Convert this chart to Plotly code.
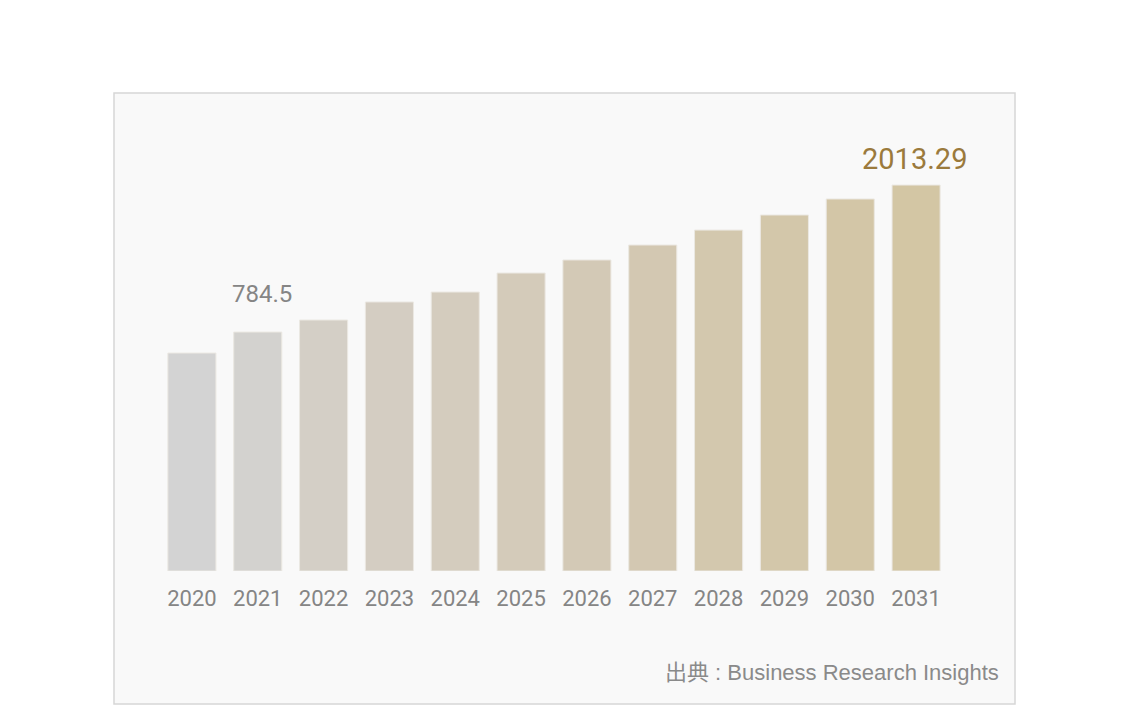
import plotly.graph_objects as go

years = ["2020", "2021", "2022", "2023", "2024", "2025",
         "2026", "2027", "2028", "2029", "2030", "2031"]
values = [609, 784.5, 885, 1036, 1119, 1278, 1387, 1512, 1637, 1763, 1897, 2013.29]
axis_floor = -1213
axis_top = 2390

bar_colors = ["#d3d3d3", "#d3d2cf", "#d4cfc6", "#d4cdc2", "#d4ccbe", "#d4cbba",
              "#d3c9b6", "#d3c8b2", "#d3c8ae", "#d3c7aa", "#d3c6a7", "#d3c6a4"]

W, H = 1125, 716
OFF = 8  # page margin of the html body


def px_x(x):
    return (x - OFF) / W


def px_y(y):
    return (H - (y - OFF)) / H


fig = go.Figure()
fig.add_trace(go.Bar(
    x=years,
    y=[v - axis_floor for v in values],
    base=axis_floor,
    marker=dict(color=bar_colors, line=dict(width=1, color="#ebe8e2")),
    customdata=values,
    hovertemplate="%{x}: %{customdata}<extra></extra>",
))

# value call-outs (category axis: position by index)
i_first, i_last = 1, len(years) - 1
fig.add_annotation(x=i_first, y=values[i_first], text="784.5", showarrow=False,
                   yanchor="bottom", yshift=22, xshift=4,
                   font=dict(family="Roboto", size=24, color="#858585"))
fig.add_annotation(x=i_last, y=values[i_last], text="2013.29", showarrow=False,
                   yanchor="bottom", yshift=7, xshift=-2,
                   font=dict(family="Roboto", size=29, color="#9b7a3c"))

fig.add_annotation(x=px_x(1001), y=px_y(687), xref="paper", yref="paper",
                   text="出典 : Business Research Insights", showarrow=False,
                   xanchor="right", yanchor="bottom",
                   font=dict(family="Liberation Sans, Noto Sans CJK JP", size=22,
                             color="#8a8a8a"))

# panel background
fig.add_shape(type="rect", xref="paper", yref="paper", layer="below",
              x0=px_x(114), x1=px_x(1015), y0=px_y(704), y1=px_y(93),
              fillcolor="#f9f9f9", line=dict(color="#d6d6d6", width=1.5))

fig.update_layout(
    width=W, height=H,
    margin=dict(l=0, r=0, t=0, b=0),
    paper_bgcolor="white", plot_bgcolor="rgba(0,0,0,0)",
    bargap=0.27, showlegend=False,
    xaxis=dict(type="category", domain=[px_x(159), px_x(949)], automargin=False,
               range=[-0.5, len(years) - 0.5],
               showgrid=False, zeroline=False, showline=False, ticks="",
               ticklabelstandoff=12,
               tickfont=dict(family="Roboto", size=22, color="#858585")),
    yaxis=dict(domain=[px_y(571), px_y(140)], automargin=False,
               range=[axis_floor, axis_top], visible=False),
)

fig.write_html("out.html")
